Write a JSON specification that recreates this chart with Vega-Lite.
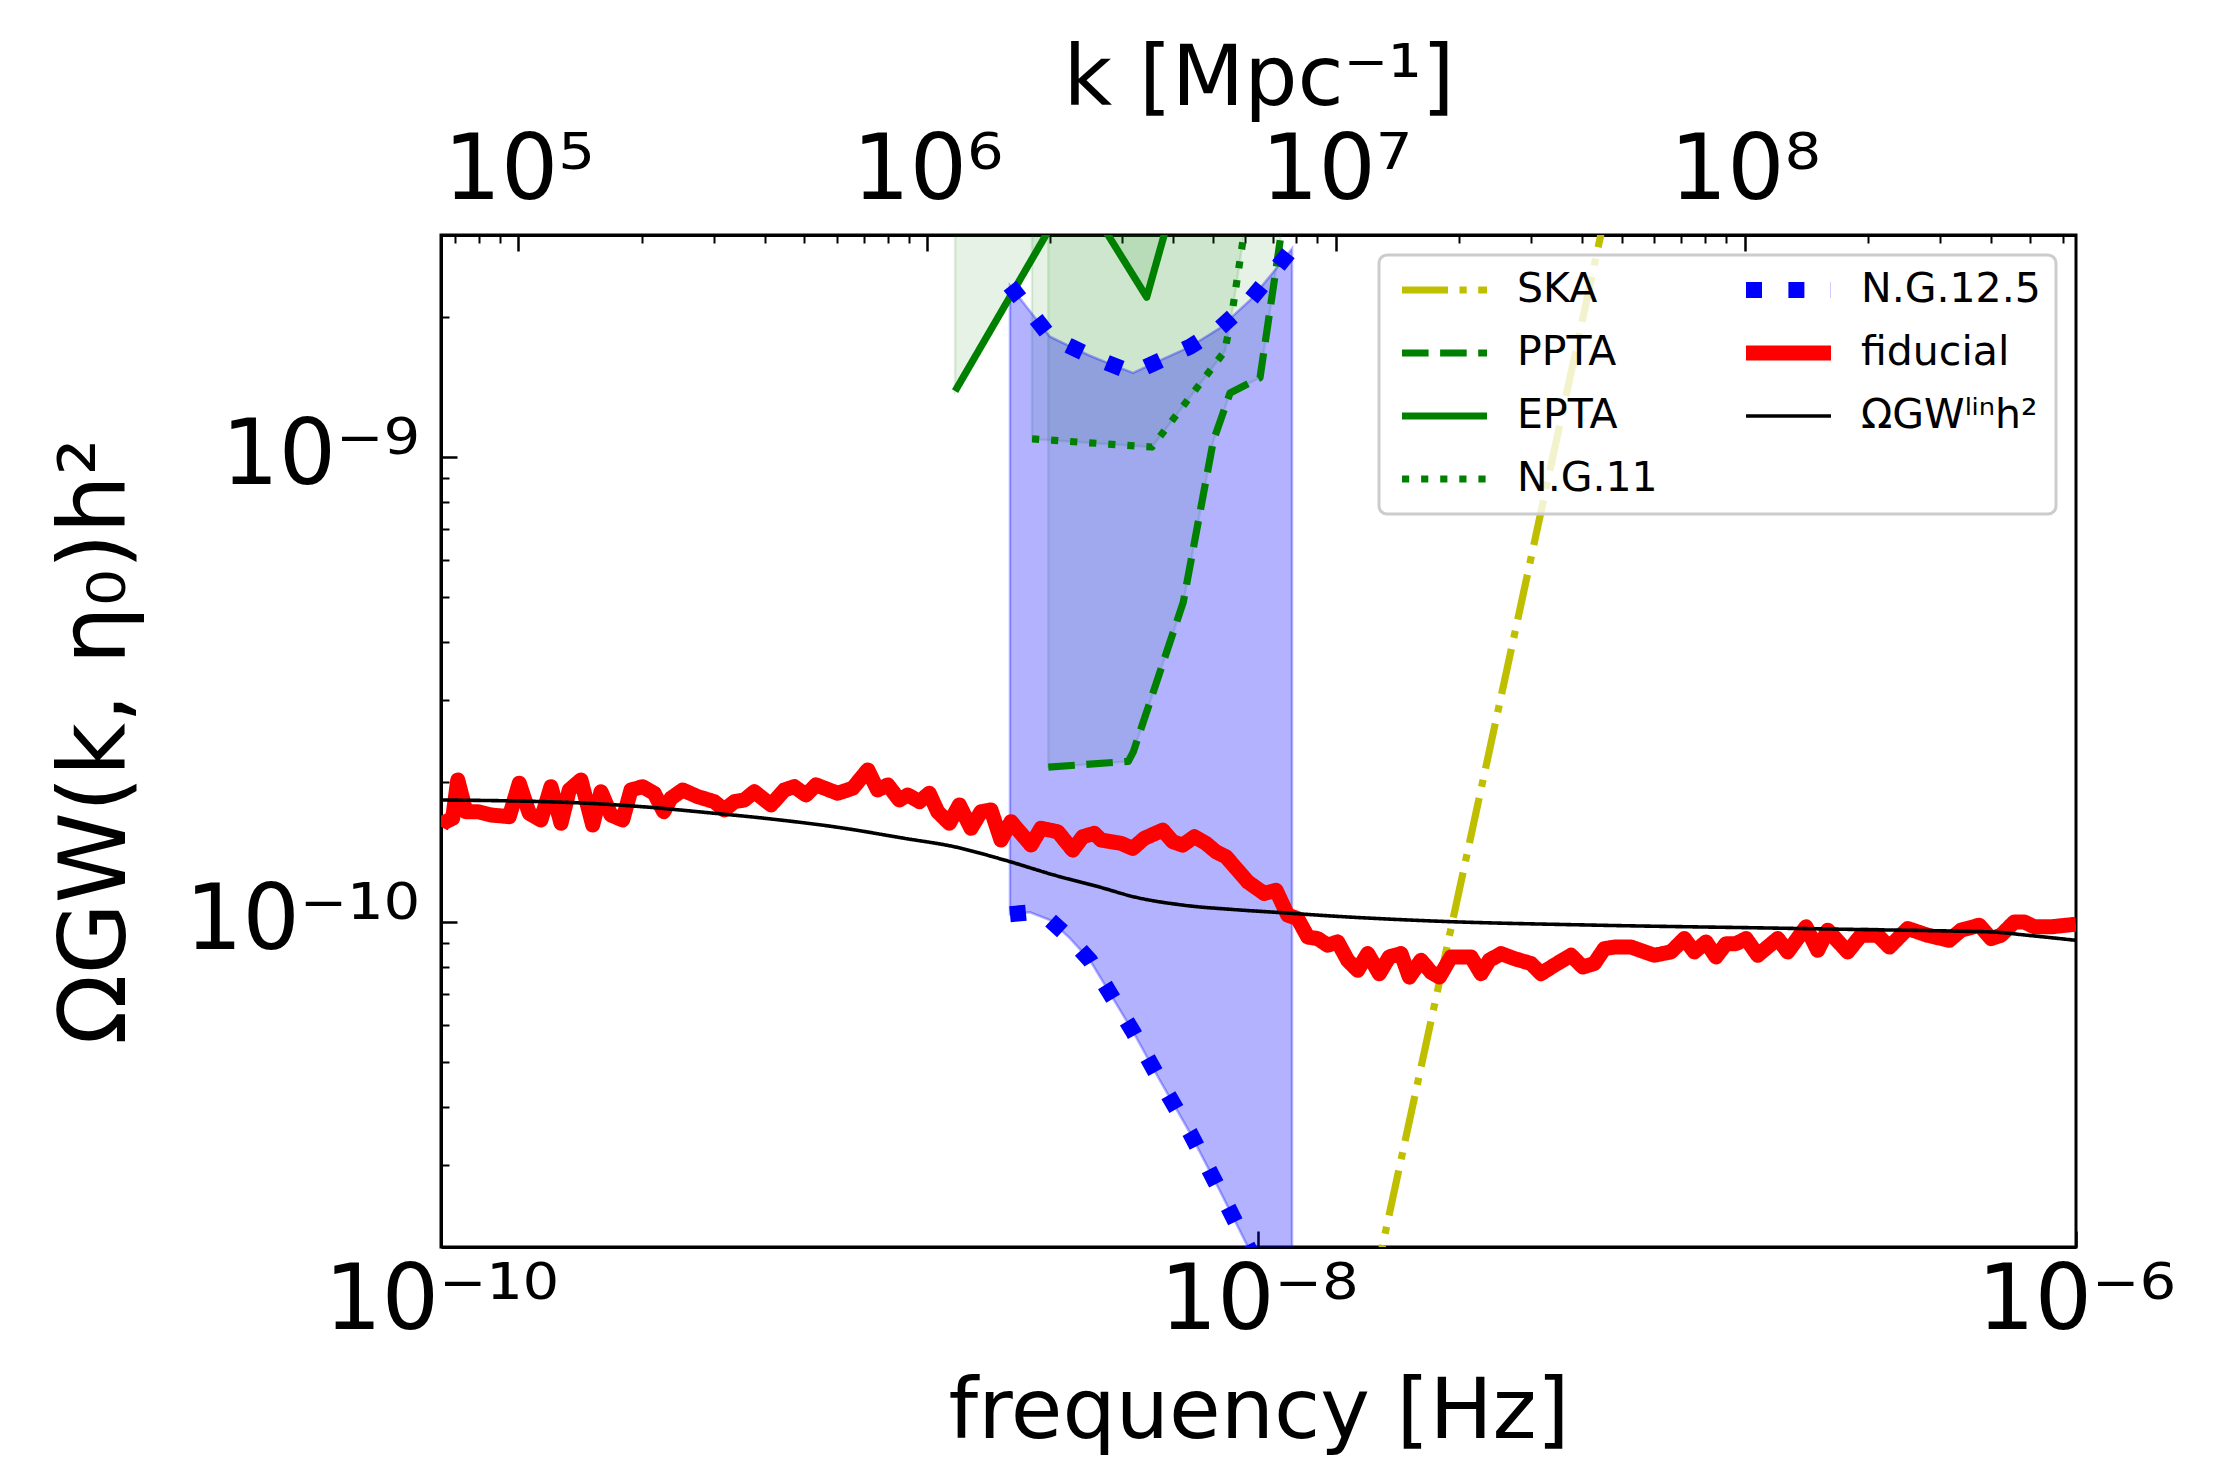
{
  "$schema": "https://vega.github.io/schema/vega-lite/v6.json",
  "width": 1635,
  "height": 1012,
  "autosize": {"type": "none"},
  "padding": {"left": 441, "top": 235, "right": 153, "bottom": 223},
  "background": "white",
  "config": {
    "font": "DejaVu Sans",
    "view": {"stroke": "black", "strokeWidth": 3},
    "axis": {"labelFont": "DejaVu Sans", "titleFont": "DejaVu Sans", "labelColor": "black", "titleColor": "black", "titleFontWeight": "normal", "labelFontSize": 90, "titleFontSize": 84, "tickColor": "black", "domainColor": "black", "domainWidth": 3, "tickWidth": 2.5, "grid": false, "zindex": 1, "labelOverlap": false, "labelFlush": false, "labelBound": false, "labelLimit": 1000, "titleLimit": 2000},
    "legend": {"orient": "top-right", "offset": 20, "columns": 2, "padding": 15, "fillColor": "rgba(255,255,255,0.8)", "strokeColor": "#cccccc", "strokeWidth": 3, "cornerRadius": 8, "labelFont": "DejaVu Sans", "labelFontSize": 41, "labelColor": "black", "labelLimit": 600, "labelOffset": 22, "symbolType": "stroke", "symbolSize": 7225, "clipHeight": 40, "rowPadding": 22, "columnPadding": 80}
  },
  "datasets": {
    "ska": [
      {"series": "SKA", "f": 1.905e-8, "v": 1.617e-11},
      {"series": "SKA", "f": 3.981e-8, "v": 3.245e-10},
      {"series": "SKA", "f": 7.244e-8, "v": 3.708e-9}
    ],
    "pta": [
      {"series": "PPTA", "f": 3.060e-9, "v": 2.152e-10},
      {"series": "PPTA", "f": 4.803e-9, "v": 2.214e-10},
      {"series": "PPTA", "f": 4.940e-9, "v": 2.322e-10},
      {"series": "PPTA", "f": 6.546e-9, "v": 4.871e-10},
      {"series": "PPTA", "f": 7.752e-9, "v": 1.082e-9},
      {"series": "PPTA", "f": 8.519e-9, "v": 1.372e-9},
      {"series": "PPTA", "f": 1.0085e-8, "v": 1.480e-9},
      {"series": "PPTA", "f": 1.129e-8, "v": 2.904e-9},
      {"series": "PPTA", "f": 1.194e-8, "v": 4.07e-9},
      {"series": "EPTA", "f": 1.810e-9, "v": 1.385e-9},
      {"series": "EPTA", "f": 3.577e-9, "v": 3.873e-9},
      {"series": "EPTA", "f": 5.327e-9, "v": 2.205e-9},
      {"series": "EPTA", "f": 6.427e-9, "v": 3.97e-9},
      {"series": "N.G.11", "f": 2.792e-9, "v": 1.093e-9},
      {"series": "N.G.11", "f": 5.487e-9, "v": 1.050e-9},
      {"series": "N.G.11", "f": 8.279e-9, "v": 1.690e-9},
      {"series": "N.G.11", "f": 8.661e-9, "v": 2.103e-9},
      {"series": "N.G.11", "f": 9.215e-9, "v": 3.022e-9},
      {"series": "N.G.11", "f": 9.533e-9, "v": 3.684e-9}
    ],
    "ng": [
      {"series": "N.G.12.5", "f": 2.466e-9, "lo": 1.039e-10, "hi": 2.334e-9},
      {"series": "N.G.12.5", "f": 2.761e-9, "lo": 1.049e-10, "hi": 2.056e-9},
      {"series": "N.G.12.5", "f": 3.090e-9, "lo": 1.009e-10, "hi": 1.813e-9},
      {"series": "N.G.12.5", "f": 3.458e-9, "lo": 9.22e-11, "hi": 1.729e-9},
      {"series": "N.G.12.5", "f": 3.870e-9, "lo": 8.27e-11, "hi": 1.650e-9},
      {"series": "N.G.12.5", "f": 4.331e-9, "lo": 7.02e-11, "hi": 1.585e-9},
      {"series": "N.G.12.5", "f": 4.932e-9, "lo": 5.81e-11, "hi": 1.515e-9},
      {"series": "N.G.12.5", "f": 5.741e-9, "lo": 4.56e-11, "hi": 1.612e-9},
      {"series": "N.G.12.5", "f": 6.798e-9, "lo": 3.52e-11, "hi": 1.725e-9},
      {"series": "N.G.12.5", "f": 8.046e-9, "lo": 2.64e-11, "hi": 1.893e-9},
      {"series": "N.G.12.5", "f": 9.533e-9, "lo": 1.96e-11, "hi": 2.172e-9},
      {"series": "N.G.12.5", "f": 1.067e-8, "lo": 1.59e-11, "hi": 2.447e-9},
      {"series": "N.G.12.5", "f": 1.208e-8, "lo": 1.25e-11, "hi": 2.805e-9}
    ],
    "om": [
      {"series": "ΩGWˡⁱⁿh²", "f": 1.0e-10, "v": 1.829e-10},
      {"series": "ΩGWˡⁱⁿh²", "f": 2.119e-10, "v": 1.805e-10},
      {"series": "ΩGWˡⁱⁿh²", "f": 3.085e-10, "v": 1.770e-10},
      {"series": "ΩGWˡⁱⁿh²", "f": 4.492e-10, "v": 1.718e-10},
      {"series": "ΩGWˡⁱⁿh²", "f": 6.418e-10, "v": 1.665e-10},
      {"series": "ΩGWˡⁱⁿh²", "f": 9.343e-10, "v": 1.598e-10},
      {"series": "ΩGWˡⁱⁿh²", "f": 1.360e-9, "v": 1.513e-10},
      {"series": "ΩGWˡⁱⁿh²", "f": 1.803e-9, "v": 1.451e-10},
      {"series": "ΩGWˡⁱⁿh²", "f": 2.388e-9, "v": 1.359e-10},
      {"series": "ΩGWˡⁱⁿh²", "f": 3.165e-9, "v": 1.261e-10},
      {"series": "ΩGWˡⁱⁿh²", "f": 4.119e-9, "v": 1.186e-10},
      {"series": "ΩGWˡⁱⁿh²", "f": 4.967e-9, "v": 1.132e-10},
      {"series": "ΩGWˡⁱⁿh²", "f": 6.585e-9, "v": 1.086e-10},
      {"series": "ΩGWˡⁱⁿh²", "f": 8.727e-9, "v": 1.063e-10},
      {"series": "ΩGWˡⁱⁿh²", "f": 1.157e-8, "v": 1.046e-10},
      {"series": "ΩGWˡⁱⁿh²", "f": 1.532e-8, "v": 1.029e-10},
      {"series": "ΩGWˡⁱⁿh²", "f": 2.642e-8, "v": 1.005e-10},
      {"series": "ΩGWˡⁱⁿh²", "f": 6.757e-8, "v": 9.84e-11},
      {"series": "ΩGWˡⁱⁿh²", "f": 1.696e-7, "v": 9.71e-11},
      {"series": "ΩGWˡⁱⁿh²", "f": 2.979e-7, "v": 9.63e-11},
      {"series": "ΩGWˡⁱⁿh²", "f": 5.232e-7, "v": 9.55e-11},
      {"series": "ΩGWˡⁱⁿh²", "f": 6.311e-7, "v": 9.51e-11},
      {"series": "ΩGWˡⁱⁿh²", "f": 7.617e-7, "v": 9.36e-11},
      {"series": "ΩGWˡⁱⁿh²", "f": 1.0e-6, "v": 9.13e-11}
    ],
    "fid": [
      {"series": "fiducial", "f": 1.0e-10, "v": 1.60e-10},
      {"series": "fiducial", "f": 1.010e-10, "v": 1.630e-10},
      {"series": "fiducial", "f": 1.068e-10, "v": 1.671e-10},
      {"series": "fiducial", "f": 1.099e-10, "v": 2.020e-10},
      {"series": "fiducial", "f": 1.151e-10, "v": 1.726e-10},
      {"series": "fiducial", "f": 1.230e-10, "v": 1.726e-10},
      {"series": "fiducial", "f": 1.326e-10, "v": 1.698e-10},
      {"series": "fiducial", "f": 1.469e-10, "v": 1.684e-10},
      {"series": "fiducial", "f": 1.554e-10, "v": 1.988e-10},
      {"series": "fiducial", "f": 1.644e-10, "v": 1.713e-10},
      {"series": "fiducial", "f": 1.756e-10, "v": 1.657e-10},
      {"series": "fiducial", "f": 1.858e-10, "v": 1.954e-10},
      {"series": "fiducial", "f": 1.966e-10, "v": 1.630e-10},
      {"series": "fiducial", "f": 2.060e-10, "v": 1.922e-10},
      {"series": "fiducial", "f": 2.200e-10, "v": 2.020e-10},
      {"series": "fiducial", "f": 2.350e-10, "v": 1.616e-10},
      {"series": "fiducial", "f": 2.463e-10, "v": 1.906e-10},
      {"series": "fiducial", "f": 2.605e-10, "v": 1.698e-10},
      {"series": "fiducial", "f": 2.783e-10, "v": 1.657e-10},
      {"series": "fiducial", "f": 2.916e-10, "v": 1.922e-10},
      {"series": "fiducial", "f": 3.114e-10, "v": 1.954e-10},
      {"series": "fiducial", "f": 3.325e-10, "v": 1.891e-10},
      {"series": "fiducial", "f": 3.506e-10, "v": 1.726e-10},
      {"series": "fiducial", "f": 3.653e-10, "v": 1.845e-10},
      {"series": "fiducial", "f": 3.902e-10, "v": 1.922e-10},
      {"series": "fiducial", "f": 4.246e-10, "v": 1.860e-10},
      {"series": "fiducial", "f": 4.663e-10, "v": 1.814e-10},
      {"series": "fiducial", "f": 4.933e-10, "v": 1.741e-10},
      {"series": "fiducial", "f": 5.220e-10, "v": 1.814e-10},
      {"series": "fiducial", "f": 5.521e-10, "v": 1.829e-10},
      {"series": "fiducial", "f": 5.842e-10, "v": 1.906e-10},
      {"series": "fiducial", "f": 6.418e-10, "v": 1.785e-10},
      {"series": "fiducial", "f": 6.917e-10, "v": 1.922e-10},
      {"series": "fiducial", "f": 7.317e-10, "v": 1.954e-10},
      {"series": "fiducial", "f": 7.816e-10, "v": 1.875e-10},
      {"series": "fiducial", "f": 8.270e-10, "v": 1.971e-10},
      {"series": "fiducial", "f": 9.343e-10, "v": 1.891e-10},
      {"series": "fiducial", "f": 1.017e-9, "v": 1.939e-10},
      {"series": "fiducial", "f": 1.107e-9, "v": 2.123e-10},
      {"series": "fiducial", "f": 1.170e-9, "v": 1.922e-10},
      {"series": "fiducial", "f": 1.239e-9, "v": 1.971e-10},
      {"series": "fiducial", "f": 1.322e-9, "v": 1.829e-10},
      {"series": "fiducial", "f": 1.386e-9, "v": 1.875e-10},
      {"series": "fiducial", "f": 1.480e-9, "v": 1.814e-10},
      {"series": "fiducial", "f": 1.565e-9, "v": 1.891e-10},
      {"series": "fiducial", "f": 1.641e-9, "v": 1.726e-10},
      {"series": "fiducial", "f": 1.752e-9, "v": 1.630e-10},
      {"series": "fiducial", "f": 1.854e-9, "v": 1.785e-10},
      {"series": "fiducial", "f": 1.980e-9, "v": 1.590e-10},
      {"series": "fiducial", "f": 2.095e-9, "v": 1.726e-10},
      {"series": "fiducial", "f": 2.216e-9, "v": 1.741e-10},
      {"series": "fiducial", "f": 2.344e-9, "v": 1.500e-10},
      {"series": "fiducial", "f": 2.480e-9, "v": 1.643e-10},
      {"series": "fiducial", "f": 2.776e-9, "v": 1.463e-10},
      {"series": "fiducial", "f": 2.937e-9, "v": 1.590e-10},
      {"series": "fiducial", "f": 3.228e-9, "v": 1.563e-10},
      {"series": "fiducial", "f": 3.512e-9, "v": 1.427e-10},
      {"series": "fiducial", "f": 3.715e-9, "v": 1.525e-10},
      {"series": "fiducial", "f": 3.966e-9, "v": 1.551e-10},
      {"series": "fiducial", "f": 4.119e-9, "v": 1.500e-10},
      {"series": "fiducial", "f": 4.609e-9, "v": 1.476e-10},
      {"series": "fiducial", "f": 4.923e-9, "v": 1.439e-10},
      {"series": "fiducial", "f": 5.256e-9, "v": 1.513e-10},
      {"series": "fiducial", "f": 5.831e-9, "v": 1.576e-10},
      {"series": "fiducial", "f": 6.168e-9, "v": 1.488e-10},
      {"series": "fiducial", "f": 6.525e-9, "v": 1.463e-10},
      {"series": "fiducial", "f": 6.966e-9, "v": 1.525e-10},
      {"series": "fiducial", "f": 7.439e-9, "v": 1.476e-10},
      {"series": "fiducial", "f": 7.871e-9, "v": 1.415e-10},
      {"series": "fiducial", "f": 8.327e-9, "v": 1.381e-10},
      {"series": "fiducial", "f": 8.895e-9, "v": 1.292e-10},
      {"series": "fiducial", "f": 9.410e-9, "v": 1.220e-10},
      {"series": "fiducial", "f": 1.033e-8, "v": 1.151e-10},
      {"series": "fiducial", "f": 1.104e-8, "v": 1.170e-10},
      {"series": "fiducial", "f": 1.179e-8, "v": 1.034e-10},
      {"series": "fiducial", "f": 1.247e-8, "v": 1.017e-10},
      {"series": "fiducial", "f": 1.320e-8, "v": 9.28e-11},
      {"series": "fiducial", "f": 1.396e-8, "v": 9.21e-11},
      {"series": "fiducial", "f": 1.477e-8, "v": 8.91e-11},
      {"series": "fiducial", "f": 1.562e-8, "v": 9.06e-11},
      {"series": "fiducial", "f": 1.653e-8, "v": 8.27e-11},
      {"series": "fiducial", "f": 1.748e-8, "v": 7.87e-11},
      {"series": "fiducial", "f": 1.850e-8, "v": 8.55e-11},
      {"series": "fiducial", "f": 1.975e-8, "v": 7.74e-11},
      {"series": "fiducial", "f": 2.089e-8, "v": 8.41e-11},
      {"series": "fiducial", "f": 2.232e-8, "v": 8.55e-11},
      {"series": "fiducial", "f": 2.339e-8, "v": 7.61e-11},
      {"series": "fiducial", "f": 2.498e-8, "v": 8.27e-11},
      {"series": "fiducial", "f": 2.642e-8, "v": 7.80e-11},
      {"series": "fiducial", "f": 2.770e-8, "v": 7.61e-11},
      {"series": "fiducial", "f": 2.958e-8, "v": 8.41e-11},
      {"series": "fiducial", "f": 3.311e-8, "v": 8.41e-11},
      {"series": "fiducial", "f": 3.503e-8, "v": 7.74e-11},
      {"series": "fiducial", "f": 3.670e-8, "v": 8.27e-11},
      {"series": "fiducial", "f": 3.920e-8, "v": 8.55e-11},
      {"series": "fiducial", "f": 4.226e-8, "v": 8.34e-11},
      {"series": "fiducial", "f": 4.642e-8, "v": 8.14e-11},
      {"series": "fiducial", "f": 4.911e-8, "v": 7.74e-11},
      {"series": "fiducial", "f": 5.292e-8, "v": 8.07e-11},
      {"series": "fiducial", "f": 5.815e-8, "v": 8.48e-11},
      {"series": "fiducial", "f": 6.212e-8, "v": 8.00e-11},
      {"series": "fiducial", "f": 6.630e-8, "v": 8.14e-11},
      {"series": "fiducial", "f": 7.015e-8, "v": 8.76e-11},
      {"series": "fiducial", "f": 7.421e-8, "v": 8.83e-11},
      {"series": "fiducial", "f": 8.155e-8, "v": 8.83e-11},
      {"series": "fiducial", "f": 9.298e-8, "v": 8.48e-11},
      {"series": "fiducial", "f": 1.021e-7, "v": 8.62e-11},
      {"series": "fiducial", "f": 1.101e-7, "v": 9.21e-11},
      {"series": "fiducial", "f": 1.165e-7, "v": 8.62e-11},
      {"series": "fiducial", "f": 1.244e-7, "v": 9.06e-11},
      {"series": "fiducial", "f": 1.316e-7, "v": 8.41e-11},
      {"series": "fiducial", "f": 1.393e-7, "v": 8.98e-11},
      {"series": "fiducial", "f": 1.473e-7, "v": 8.98e-11},
      {"series": "fiducial", "f": 1.559e-7, "v": 9.21e-11},
      {"series": "fiducial", "f": 1.665e-7, "v": 8.48e-11},
      {"series": "fiducial", "f": 1.863e-7, "v": 9.21e-11},
      {"series": "fiducial", "f": 1.971e-7, "v": 8.62e-11},
      {"series": "fiducial", "f": 2.185e-7, "v": 9.76e-11},
      {"series": "fiducial", "f": 2.334e-7, "v": 8.69e-11},
      {"series": "fiducial", "f": 2.470e-7, "v": 9.60e-11},
      {"series": "fiducial", "f": 2.763e-7, "v": 8.62e-11},
      {"series": "fiducial", "f": 2.979e-7, "v": 9.36e-11},
      {"series": "fiducial", "f": 3.273e-7, "v": 9.36e-11},
      {"series": "fiducial", "f": 3.495e-7, "v": 8.83e-11},
      {"series": "fiducial", "f": 3.876e-7, "v": 9.68e-11},
      {"series": "fiducial", "f": 4.337e-7, "v": 9.36e-11},
      {"series": "fiducial", "f": 4.899e-7, "v": 9.13e-11},
      {"series": "fiducial", "f": 5.232e-7, "v": 9.60e-11},
      {"series": "fiducial", "f": 5.800e-7, "v": 9.84e-11},
      {"series": "fiducial", "f": 6.195e-7, "v": 9.21e-11},
      {"series": "fiducial", "f": 6.553e-7, "v": 9.36e-11},
      {"series": "fiducial", "f": 7.064e-7, "v": 1.000e-10},
      {"series": "fiducial", "f": 7.474e-7, "v": 1.000e-10},
      {"series": "fiducial", "f": 7.907e-7, "v": 9.76e-11},
      {"series": "fiducial", "f": 8.688e-7, "v": 9.76e-11},
      {"series": "fiducial", "f": 1.0e-6, "v": 9.89e-11}
    ]
  },
  "resolve": {"axis": {"x": "independent", "y": "independent"}},
  "layer": [
    {
      "data": {"name": "pta"},
      "mark": {"type": "area", "fill": "green", "fillOpacity": 0.1, "stroke": "green", "strokeOpacity": 0.12, "strokeWidth": 2.5, "clip": true},
      "encoding": {
        "x": {"field": "f", "type": "quantitative", "scale": {"type": "log", "domain": [1e-10, 1e-6], "nice": false}, "axis": null},
        "y": {"field": "v", "type": "quantitative", "scale": {"type": "log", "domain": [2e-11, 3e-9], "nice": false}, "axis": null},
        "y2": {"datum": 1e-6},
        "detail": {"field": "series", "type": "nominal"}
      }
    },
    {
      "data": {"name": "ng"},
      "mark": {"type": "area", "fill": "blue", "fillOpacity": 0.3, "stroke": "blue", "strokeOpacity": 0.3, "strokeWidth": 2.5, "clip": true},
      "encoding": {
        "x": {"field": "f", "type": "quantitative", "scale": {"type": "log", "domain": [1e-10, 1e-6], "nice": false}, "axis": null},
        "y": {"field": "lo", "type": "quantitative", "scale": {"type": "log", "domain": [2e-11, 3e-9], "nice": false}, "axis": null},
        "y2": {"field": "hi"}
      }
    },
    {
      "encoding": {
        "x": {"field": "f", "type": "quantitative", "scale": {"type": "log", "domain": [1e-10, 1e-6], "nice": false},
          "axis": {"orient": "bottom", "title": "frequency [Hz]", "values": [1e-10, 1e-8, 1e-6], "labelExpr": "datum.value < 1e-9 ? '10⁻¹⁰' : datum.value < 1e-7 ? '10⁻⁸' : '10⁻⁶'", "tickSize": -16, "labelPadding": 26, "titlePadding": 25}},
        "y": {"field": "v", "type": "quantitative", "scale": {"type": "log", "domain": [2e-11, 3e-9], "nice": false}, "axis": null},
        "color": {"field": "series", "type": "nominal",
          "scale": {"domain": ["SKA", "PPTA", "EPTA", "N.G.11", "N.G.12.5", "fiducial", "ΩGWˡⁱⁿh²"], "range": ["#bfbf00", "#008000", "#008000", "#008000", "#0000ff", "#ff0000", "#000000"]},
          "legend": {"title": null}},
        "strokeDash": {"field": "series", "type": "nominal",
          "scale": {"domain": ["SKA", "PPTA", "EPTA", "N.G.11", "N.G.12.5", "fiducial", "ΩGWˡⁱⁿh²"], "range": [[46, 11.5, 7.2, 11.5], [26.6, 11.5], [1, 0], [7.2, 11.9], [16, 26.4], [1, 0], [1, 0]]},
          "legend": {"title": null}},
        "strokeWidth": {"field": "series", "type": "nominal",
          "scale": {"type": "ordinal", "domain": ["SKA", "PPTA", "EPTA", "N.G.11", "N.G.12.5", "fiducial", "ΩGWˡⁱⁿh²"], "range": [7.2, 7.2, 7.2, 7.2, 16, 15, 3.6]},
          "legend": {"title": null}}
      },
      "layer": [
        {"data": {"name": "ska"}, "mark": {"type": "line", "clip": true, "strokeJoin": "round"}},
        {"data": {"name": "pta"}, "mark": {"type": "line", "clip": true, "strokeJoin": "round"}},
        {"data": {"name": "ng"}, "mark": {"type": "line", "clip": true, "strokeJoin": "round"},
          "encoding": {"y": {"field": "hi", "type": "quantitative", "scale": {"type": "log", "domain": [2e-11, 3e-9], "nice": false}, "axis": null}}},
        {"data": {"name": "ng"}, "mark": {"type": "line", "clip": true, "strokeJoin": "round"},
          "encoding": {"y": {"field": "lo", "type": "quantitative", "scale": {"type": "log", "domain": [2e-11, 3e-9], "nice": false}, "axis": null}}},
        {"data": {"name": "fid"}, "mark": {"type": "line", "clip": true, "strokeJoin": "round"}},
        {"data": {"name": "om"}, "mark": {"type": "line", "clip": true, "strokeJoin": "round", "interpolate": "monotone"}}
      ]
    },
    {
      "data": {"name": "om"},
      "mark": {"type": "rule", "strokeOpacity": 0},
      "encoding": {"y": {"field": "v", "type": "quantitative", "scale": {"type": "log", "domain": [2e-11, 3e-9], "nice": false},
        "axis": {"orient": "left", "title": "ΩGW(k, η₀)h²", "titleFontSize": 92, "values": [1e-10, 1e-9], "labelExpr": "datum.value < 5e-10 ? '10⁻¹⁰' : '10⁻⁹'", "tickSize": -16, "labelPadding": 38, "titlePadding": 98}}}
    },
    {
      "data": {"name": "om"},
      "mark": {"type": "rule", "strokeOpacity": 0},
      "encoding": {"y": {"field": "v", "type": "quantitative", "scale": {"type": "log", "domain": [2e-11, 3e-9], "nice": false},
        "axis": {"orient": "left", "title": null, "labels": false, "domain": false, "tickSize": -8, "tickWidth": 2,
          "values": [3e-11, 4e-11, 5e-11, 6e-11, 7e-11, 8e-11, 9e-11, 2e-10, 3e-10, 4e-10, 5e-10, 6e-10, 7e-10, 8e-10, 9e-10, 2e-9]}}}
    },
    {
      "data": {"name": "om"},
      "mark": {"type": "rule", "strokeOpacity": 0},
      "encoding": {"x": {"field": "f", "type": "quantitative", "scale": {"type": "log", "domain": [1e-10, 1e-6], "nice": false},
        "axis": {"orient": "top", "title": "k [Mpc⁻¹]", "values": [1.5473e-10, 1.5473e-9, 1.5473e-8, 1.5473e-7], "labelExpr": "datum.value < 1e-9 ? '10⁵' : datum.value < 1e-8 ? '10⁶' : datum.value < 1e-7 ? '10⁷' : '10⁸'", "tickSize": -16, "labelPadding": 34, "titlePadding": 4}}}
    },
    {
      "data": {"name": "om"},
      "mark": {"type": "rule", "strokeOpacity": 0},
      "encoding": {"x": {"field": "f", "type": "quantitative", "scale": {"type": "log", "domain": [1e-10, 1e-6], "nice": false},
        "axis": {"orient": "top", "title": null, "labels": false, "domain": false, "tickSize": -8, "tickWidth": 2,
          "values": [1.0831e-10, 1.2378e-10, 1.3926e-10, 3.0946e-10, 4.6419e-10, 6.1892e-10, 7.7365e-10, 9.2838e-10, 1.0831e-9, 1.2378e-9, 1.3926e-9, 3.0946e-9, 4.6419e-9, 6.1892e-9, 7.7365e-9, 9.2838e-9, 1.0831e-8, 1.2378e-8, 1.3926e-8, 3.0946e-8, 4.6419e-8, 6.1892e-8, 7.7365e-8, 9.2838e-8, 1.0831e-7, 1.2378e-7, 1.3926e-7, 3.0946e-7, 4.6419e-7, 6.1892e-7, 7.7365e-7, 9.2838e-7]}}}
    }
  ]
}
